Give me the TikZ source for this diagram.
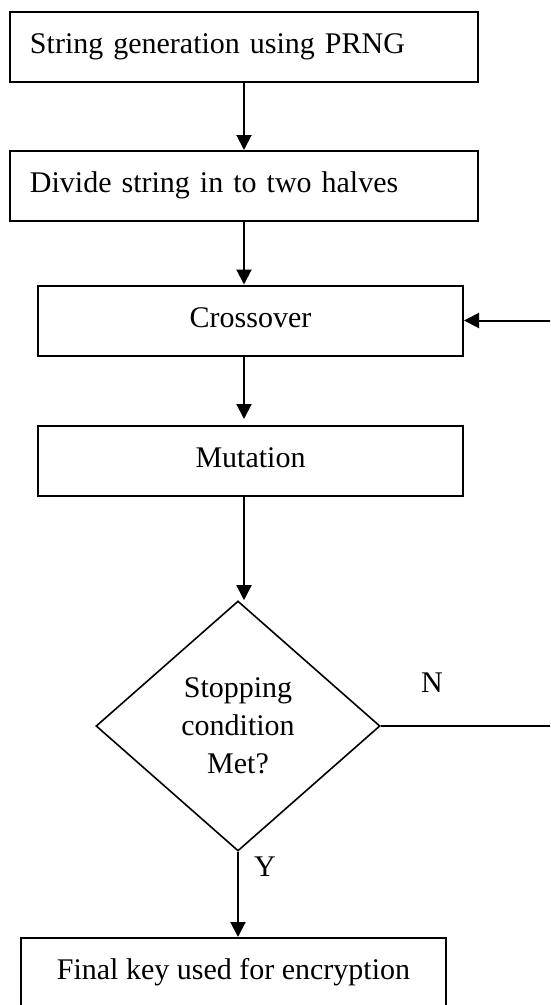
\documentclass[tikz,border=0pt]{standalone}
\usepackage{fontspec}
\setmainfont{Liberation Serif}
\usepackage{tikz}
\usetikzlibrary{positioning,arrows.meta,shapes.geometric}

\begin{document}
\begin{tikzpicture}[
    x=1pt, y=-1pt,
    every node/.style={font=\fontsize{30}{38}\selectfont},
    box/.style={draw, line width=2pt, minimum height=70pt, inner sep=0pt,
                text height=20pt, text depth=7pt},
    wide/.style={box, minimum width=468pt, text width=428pt, align=left},
    mid/.style={box, minimum width=425pt, align=center},
    decide/.style={draw, diamond, line width=1.6pt, minimum width=284pt,
                   minimum height=250pt, aspect=1.136, inner sep=0pt, align=center},
    arr/.style={-{Triangle[length=15pt,width=15pt]}, line width=2pt},
    lbl/.style={inner sep=0pt}
]
\useasboundingbox (0,0) rectangle (550,1005);
\begin{scope}
\clip (0,0) rectangle (550,1005);

\node[wide] (gen) at (244,46.5) {String generation using PRNG};
\node[wide] (div) at (244,186) {Divide string in to two halves};
\node[mid] (cross) at (250.5,320.5) {Crossover};
\node[mid] (mut) at (250.5,461) {Mutation};
\node[decide] (dec) at (238,726) {Stopping\\condition\\Met?};
\node[mid] (fin) at (233.5,973) {Final key used for encryption};

\node[lbl] (no) at (432,683) {N};
\node[lbl] (yes) at (265,867) {Y};
\coordinate (back) at (552,726);

\draw[arr] (gen.south) -- (div.north);
\draw[arr] (div.south) -- (div.south |- cross.north);
\draw[arr, shorten >=6pt] (div.south |- cross.south) -- (div.south |- mut.north);
\draw[arr] (div.south |- mut.south) -- (div.south |- dec.north);
\draw[arr] (dec.south) -- (dec.south |- fin.north);
\draw[arr] (dec.east) -- (back) |- (cross.east);
\end{scope}
\end{tikzpicture}
\end{document}
